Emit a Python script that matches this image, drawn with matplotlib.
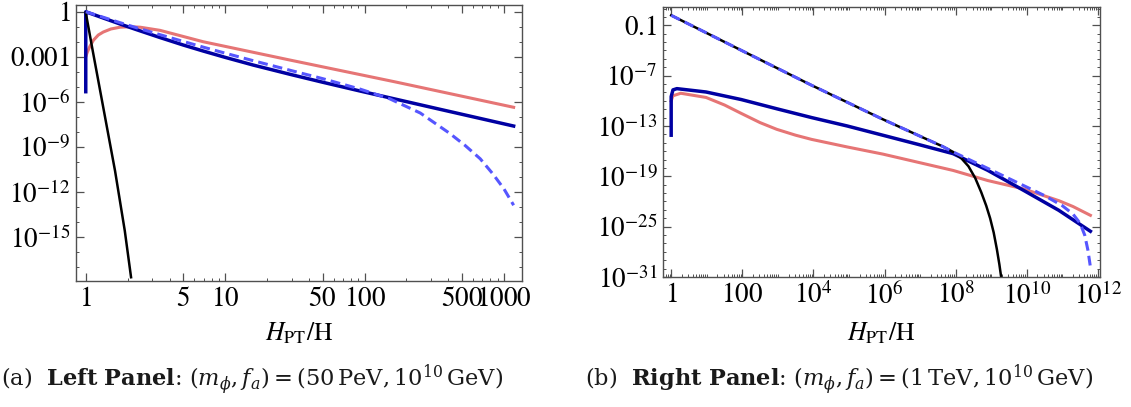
import numpy as np
import matplotlib
matplotlib.use("Agg")
import matplotlib.pyplot as plt
from matplotlib.ticker import FixedLocator, FixedFormatter, NullFormatter

plt.rcParams['mathtext.fontset'] = 'stix'
plt.rcParams['font.family'] = 'Liberation Serif'

# values, stored as log10(x), log10(y)
# left panel: (m_phi, f_a) = (50 PeV, 1e10 GeV)
left_black_lx = [0.0, 0.05, 0.12, 0.21, 0.28, 0.325]
left_black_ly = [-0.05, -2.6, -6.1, -10.6, -14.6, -17.7]

left_navy_lx = [0.0, 0.0, 0.126, 0.25, 0.366, 0.533, 0.7, 0.843, 1.0, 1.2, 1.465, 1.7,
                1.966, 2.54, 3.07]
left_navy_ly = [-5.33, 0.0, -0.42, -0.83, -1.2, -1.72, -2.22, -2.62, -3.04, -3.55, -4.17,
                -4.7, -5.28, -6.5, -7.62]

left_dash_lx = [0.0, 0.126, 0.25, 0.366, 0.533, 0.7, 0.843, 1.0, 1.2, 1.465, 1.7, 1.966,
                2.18, 2.40, 2.61, 2.72, 2.83, 2.92, 3.0, 3.07]
left_dash_ly = [0.0, -0.37, -0.74, -1.07, -1.53, -1.98, -2.36, -2.76, -3.26, -3.9, -4.46,
                -5.15, -5.8, -6.75, -8.1, -8.9, -9.8, -10.8, -11.8, -12.9]

left_pink_lx = [0.0, 0.011, 0.03, 0.055, 0.09, 0.126, 0.18, 0.246, 0.32, 0.39, 0.533,
                0.843, 1.465, 2.217, 3.07]
left_pink_ly = [-3.0, -2.7, -2.3, -1.9, -1.55, -1.35, -1.15, -1.03, -1.0, -1.03, -1.24,
                -2.0, -3.22, -4.67, -6.37]

# right panel: (m_phi, f_a) = (1 TeV, 1e10 GeV)
right_black_lx = [0.0, 1.97, 3.95, 5.95, 7.64, 7.93, 8.15, 8.36, 8.55, 8.72, 8.86, 8.97,
                  9.07, 9.16, 9.23, 9.28]
right_black_ly = [0.19, -3.98, -8.15, -12.2, -15.45, -16.1, -16.8, -17.8, -19.2, -20.9,
                  -22.5, -24.0, -25.7, -27.7, -29.5, -31.0]

right_dash_lx = [0.0, 1.97, 3.95, 5.95, 7.64, 7.93, 8.9, 9.91, 10.5, 11.0, 11.3, 11.5,
                 11.63, 11.72, 11.79]
right_dash_ly = [0.19, -3.98, -8.15, -12.2, -15.45, -16.1, -18.05, -20.1, -21.3, -22.5,
                 -23.5, -24.6, -26.0, -27.8, -29.8]

right_navy_lx = [0.0, 0.0, 0.05, 0.16, 0.98, 1.97, 2.97, 3.95, 4.95, 5.95, 6.95, 7.93,
                 8.9, 9.91, 10.9, 11.79]
right_navy_ly = [-14.1, -9.5, -8.7, -8.55, -8.95, -9.85, -10.95, -12.0, -13.0, -14.1,
                 -15.2, -16.3, -18.28, -20.67, -23.05, -25.55]

right_pink_lx = [0.0, 0.05, 0.27, 0.98, 1.5, 1.97, 2.5, 2.97, 3.5, 3.95, 4.95, 5.95, 7.93,
                 8.9, 9.91, 10.9, 11.3, 11.79]
right_pink_ly = [-10.0, -9.4, -9.1, -9.6, -10.5, -11.5, -12.6, -13.4, -14.1, -14.6, -15.5,
                 -16.35, -18.3, -19.5, -20.5, -21.9, -22.6, -23.65]

left_xticks = [1, 5, 10, 50, 100, 500, 1000]
left_xlabels = ['1', '5', '10', '50', '100', '500', '1000']
left_yticks = [1, 1e-3, 1e-6, 1e-9, 1e-12, 1e-15]
left_ylabels = ['1', '0.001', '10^{-6}', '10^{-9}', '10^{-12}', '10^{-15}']

right_xticks = [1, 1e2, 1e4, 1e6, 1e8, 1e10, 1e12]
right_xlabels = ['1', '100', '10^4', '10^6', '10^8', '10^{10}', '10^{12}']
right_yticks = [0.1, 1e-7, 1e-13, 1e-19, 1e-25, 1e-31]
right_ylabels = ['0.1', '10^{-7}', '10^{-13}', '10^{-19}', '10^{-25}', '10^{-31}']

BLACK = '#000000'
NAVY = '#0000a2'
LIGHT = '#5656ff'
PINK = '#e67575'
FRAME = '#505050'
W, H = 1131, 407


def L(v):
    return 10.0 ** np.array(v)


def style(ax, xt, xl, yt, yl, xminor, yminor, xlim, ylim):
    ax.set_xscale('log')
    ax.set_yscale('log')
    ax.set_xlim(*xlim)
    ax.set_ylim(*ylim)
    ax.xaxis.set_major_locator(FixedLocator(xt))
    ax.xaxis.set_major_formatter(FixedFormatter(['$' + s + '$' for s in xl]))
    ax.yaxis.set_major_locator(FixedLocator(yt))
    ax.yaxis.set_major_formatter(FixedFormatter(['$' + s + '$' for s in yl]))
    ax.xaxis.set_minor_locator(FixedLocator(xminor))
    ax.yaxis.set_minor_locator(FixedLocator(yminor))
    ax.xaxis.set_minor_formatter(NullFormatter())
    ax.yaxis.set_minor_formatter(NullFormatter())
    ax.tick_params(which='both', direction='in', top=True, right=True,
                   color=FRAME, labelsize=19.5, pad=4)
    ax.tick_params(which='major', length=5.5, width=0.9)
    ax.tick_params(which='minor', length=2.5, width=0.7)
    for s in ax.spines.values():
        s.set_color(FRAME)
        s.set_linewidth(1.0)


fig = plt.figure(figsize=(W / 100, H / 100), dpi=100)

axl = fig.add_axes([76 / W, (H - 281) / H, (522 - 76) / W, (281 - 5) / H])
axr = fig.add_axes([663 / W, (H - 277) / H, (1100 - 663) / W, (277 - 7) / H])

axl.plot(L(left_pink_lx), L(left_pink_ly), color=PINK, lw=2.2)
axl.plot(L(left_navy_lx), L(left_navy_ly), color=NAVY, lw=2.5)
axl.plot(L(left_black_lx), L(left_black_ly), color=BLACK, lw=1.8)
axl.plot(L(left_dash_lx), L(left_dash_ly), color=LIGHT, lw=2.2, ls=(0, (3.2, 1.7)))

axr.plot(L(right_pink_lx), L(right_pink_ly), color=PINK, lw=2.2)
axr.plot(L(right_navy_lx), L(right_navy_ly), color=NAVY, lw=2.5)
axr.plot(L(right_black_lx), L(right_black_ly), color=BLACK, lw=1.8)
axr.plot(L(right_dash_lx), L(right_dash_ly), color=LIGHT, lw=2.2, ls=(0, (3.2, 1.7)))

lminor_x = [m * 10 ** e for e in range(0, 4) for m in range(2, 10)]
lminor_y = [10.0 ** e for e in range(-18, 1)]
rminor_x = [m * 10.0 ** e for e in range(-1, 13) for m in range(2, 10)] + \
           [10.0 ** e for e in range(-1, 13, 2)]
rminor_y = [10.0 ** e for e in range(-31, 2)]

style(axl, left_xticks, left_xlabels, left_yticks, left_ylabels, lminor_x, lminor_y,
      (10 ** -0.07, 10 ** 3.13), (10 ** -17.95, 10 ** 0.45))
style(axr, right_xticks, right_xlabels, right_yticks, right_ylabels, rminor_x, rminor_y,
      (10 ** -0.23, 10 ** 12.06), (1e-31, 10 ** 1.18))

fig.text(299 / W, 1 - 333 / H, r'$H_{\mathrm{PT}}/\mathrm{H}$', ha='center', va='center',
         fontsize=18.5)
fig.text(881 / W, 1 - 333 / H, r'$H_{\mathrm{PT}}/\mathrm{H}$', ha='center', va='center',
         fontsize=18.5)

fig.text(1 / W, 1 - 380 / H,
         r'(a)  $\mathbf{Left\ Panel}$: $(m_\phi, f_a) = (50\,\mathrm{PeV}, 10^{10}\,\mathrm{GeV})$',
         ha='left', va='center', fontsize=16.2, family='DejaVu Serif',
         math_fontfamily='dejavuserif', color='#1a1a1a')
fig.text(585 / W, 1 - 380 / H,
         r'(b)  $\mathbf{Right\ Panel}$: $(m_\phi, f_a) = (1\,\mathrm{TeV}, 10^{10}\,\mathrm{GeV})$',
         ha='left', va='center', fontsize=16.2, family='DejaVu Serif',
         math_fontfamily='dejavuserif', color='#1a1a1a')

fig.savefig('out.png', dpi=100)
